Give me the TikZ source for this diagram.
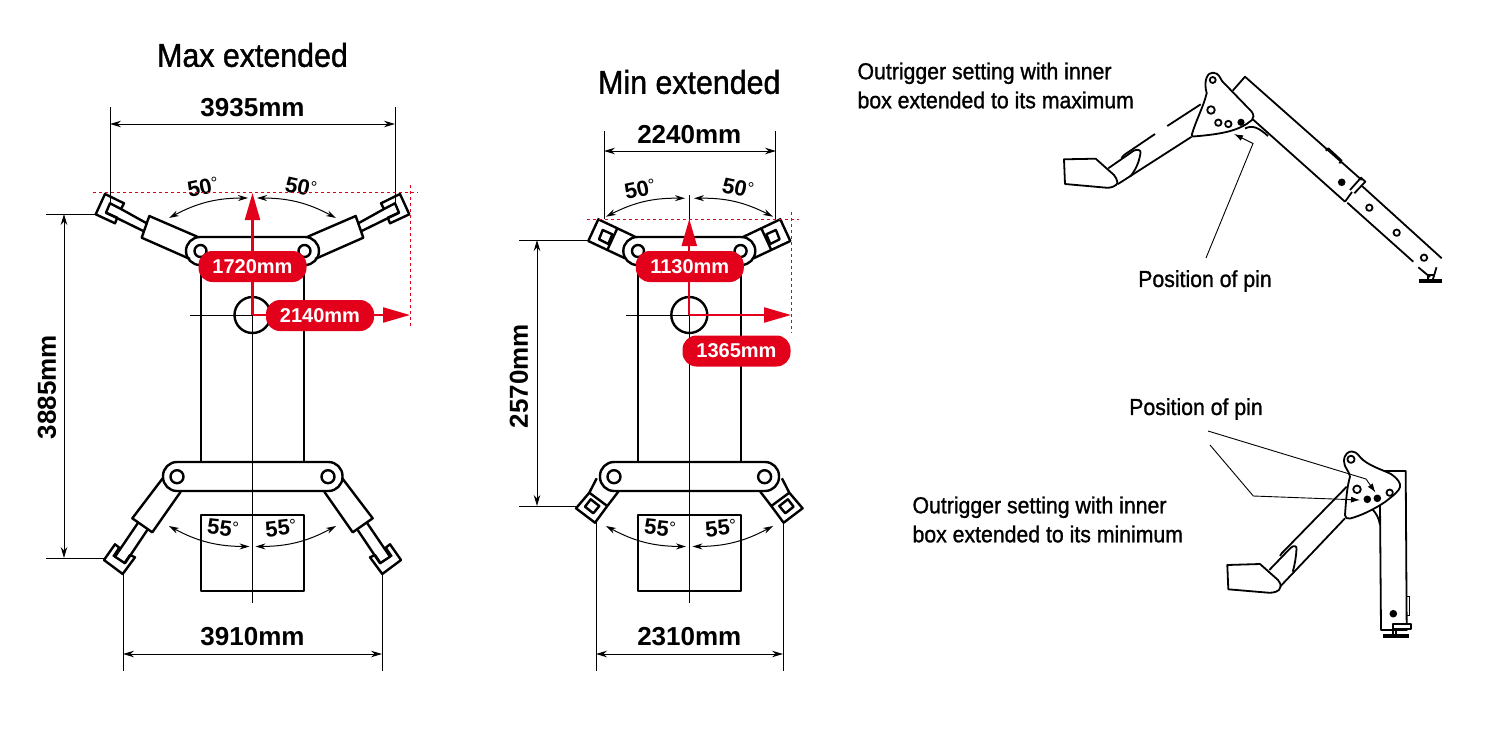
\documentclass[tikz,border=0pt]{standalone}
\usepackage{fontspec}
\usepackage{xcolor}
\usetikzlibrary{arrows.meta}
\setmainfont{Liberation Sans}
\newfontfamily\narrowfont[FakeStretch=0.92,FakeBold=1.2]{Liberation Sans}
\definecolor{markred}{HTML}{E2001A}
\newcommand{\dg}{{\mdseries\fontsize{17}{17}\selectfont\raisebox{.2em}{°}}}

\begin{document}
\begin{tikzpicture}[x=1pt,y=-1pt]
	\tikzstyle{body} = [line width=2.4pt,line join=round]
	\tikzstyle{fine} = [line width=1.8pt,line join=round]
	\tikzstyle{thin} = [line width=1pt]
	\tikzstyle{dimline} = [line width=1pt,{Stealth[length=11pt,width=6.5pt]}-{Stealth[length=11pt,width=6.5pt]}]
	\tikzstyle{arcline} = [line width=1pt,{Stealth[length=10pt,width=6pt]}-{Stealth[length=10pt,width=6pt]}]
	\tikzstyle{reddash} = [markred,line width=1pt,dashed]
	\tikzstyle{redarrow} = [markred,line width=2.2pt,-{Triangle[length=27pt,width=15pt]}]
	\tikzstyle{pinline} = [line width=0.9pt,-{Latex[length=9pt,width=6pt]}]
	\tikzstyle{pill} = [fill=markred,text=white,rounded corners=14pt,minimum width=108pt,minimum height=31pt,inner sep=0pt,font=\bfseries\fontsize{20}{20}\selectfont]
	\tikzstyle{titletxt} = [font=\narrowfont\fontsize{33}{33}\selectfont]
	\tikzstyle{dimtxt} = [font=\bfseries\fontsize{26}{26}\selectfont]
	\tikzstyle{angletxt} = [font=\bfseries\fontsize{22}{22}\selectfont,inner sep=0pt]
	\tikzstyle{notetxt} = [font=\narrowfont\fontsize{23.1}{29}\selectfont,align=left,anchor=west]
	\tikzstyle{pintxt} = [font=\narrowfont\fontsize{23.1}{24}\selectfont]
	\useasboundingbox (0,0) rectangle (1500,750);

	% max extended
	\node(maxtitle)[titletxt] at (252.5,55) {Max extended};
	\node(maxtop)[dimtxt] at (252.5,108) {3935mm};
	\node(maxbot)[dimtxt] at (252.5,637) {3910mm};
	\node(maxside)[dimtxt,rotate=90] at (47,387) {3885mm};
	\draw[body,rounded corners=14pt] (186,237) rectangle (319,265);
	\draw[body,rounded corners=14pt] (163,462) rectangle (342.5,491);
	\draw[body] (201,265) -- (201,462) (304,265) -- (304,462);
	\draw[body] (201,515) rectangle (304,591);
	\draw[body] (252.5,315) circle[radius=18];
	\draw[thin] (252.5,195) -- (252.5,603) (190,315) -- (252.5,315);
	\foreach \sx in {1,-1}{
		\begin{scope}[shift={(252.5,0)},xscale=\sx]
			\draw[body] (-52,251) circle[radius=6];
			\draw[body] (-75.5,476.7) circle[radius=6.5];
			% upper arm
			\draw[body] (-55.2,236.7) -- (-103.2,216) -- (-110.8,237.7) -- (-62.5,259);
			\draw[body] (-131.5,209) -- (-105.8,223.3) (-146.5,212.7) -- (-109.2,231);
			\draw[body] (-142.5,203.3) -- (-131.5,209) -- (-128.5,203.3) -- (-147.5,194) -- (-156.8,214.3) -- (-137.5,223.3) -- (-135.2,217.7) -- (-146.5,212.7) -- cycle;
			% lower arm
			\draw[body] (-89.8,478.3) -- (-120.2,518.3) -- (-100.2,532.3) -- (-71.8,491.7);
			\draw[body] (-114.8,523.3) -- (-137.5,556.7) -- (-127.5,563.3) -- (-105.2,530);
			\draw[body] (-139.2,556.7) -- (-133.2,547.7) -- (-137.5,544.3) -- (-148.5,560) -- (-129.8,574) -- (-117.5,557.3) -- (-122.5,555) -- (-128.2,563.3);
		\end{scope}
	}
	\coordinate(ma1) at (110,124);
	\coordinate(ma2) at (395,124);
	\coordinate(ma3) at (110,107);
	\coordinate(ma4) at (110,203);
	\coordinate(ma5) at (395,107);
	\coordinate(ma6) at (395,203);
	\draw[dimline](ma1) -- (ma2);
	\draw[thin](ma3) -- (ma4);
	\draw[thin](ma5) -- (ma6);
	\coordinate(mb1) at (123,654);
	\coordinate(mb2) at (382,654);
	\coordinate(mb3) at (123,574);
	\coordinate(mb4) at (123,671);
	\coordinate(mb5) at (382,574);
	\coordinate(mb6) at (382,671);
	\draw[dimline](mb1) -- (mb2);
	\draw[thin](mb3) -- (mb4);
	\draw[thin](mb5) -- (mb6);
	\coordinate(mc1) at (64,214);
	\coordinate(mc2) at (64,558);
	\coordinate(mc3) at (46,214);
	\coordinate(mc4) at (95,214);
	\coordinate(mc5) at (46,558);
	\coordinate(mc6) at (104,558);
	\draw[dimline](mc1) -- (mc2);
	\draw[thin](mc3) -- (mc4);
	\draw[thin](mc5) -- (mc6);
	\coordinate(md1) at (169,218);
	\coordinate(md2) at (248,198);
	\coordinate(md3) at (336,218);
	\coordinate(md4) at (257,198);
	\coordinate(md5) at (169,526);
	\coordinate(md6) at (249.5,546.5);
	\coordinate(md7) at (336,526);
	\coordinate(md8) at (255.5,546.5);
	\draw[arcline](md1) to[bend left=14] (md2);
	\draw[arcline](md3) to[bend right=14] (md4);
	\draw[arcline](md5) to[bend right=14] (md6);
	\draw[arcline](md7) to[bend left=14] (md8);
	\node(ma50)[angletxt,rotate=12] at (203,187) {50\dg};
	\node(mb50)[angletxt,rotate=-12] at (301,187) {50\dg};
	\node(ma55)[angletxt,rotate=-6] at (223,528) {55\dg};
	\node(mb55)[angletxt,rotate=6] at (281,528) {55\dg};
	\coordinate(mo) at (252.5,315);
	\coordinate(mup) at (252.5,193);
	\coordinate(mright) at (410,315);
	\draw[reddash] (93,192.7) -- (418,192.7) (410,185) -- (410,326);
	\draw[redarrow](mo) -- (mup);
	\draw[redarrow](mo) -- (mright);
	\node(mlab1)[pill] at (252.5,266.5) {1720mm};
	\node(mlab2)[pill] at (320,315.5) {2140mm};

	% min extended
	\node(mintitle)[titletxt] at (689.3,82) {Min extended};
	\node(mintop)[dimtxt] at (689.3,135) {2240mm};
	\node(minbot)[dimtxt] at (689.3,637) {2310mm};
	\node(minside)[dimtxt,rotate=90] at (519,376) {2570mm};
	\draw[body,rounded corners=14pt] (623.3,237) rectangle (755.3,265);
	\draw[body,rounded corners=14pt] (600,462) rectangle (779,491);
	\draw[body] (638,265) -- (638,462) (741,265) -- (741,462);
	\draw[body] (638,515) rectangle (741,591);
	\draw[body] (689.3,315) circle[radius=18];
	\draw[thin] (689.3,195) -- (689.3,603) (626,315) -- (689.3,315);
	\foreach \sx in {1,-1}{
		\begin{scope}[shift={(689.3,0)},xscale=\sx]
			\draw[body] (-51.3,251) circle[radius=6];
			\draw[body] (-75.3,476.7) circle[radius=6.5];
			% upper arm
			\draw[body] (-54.3,236.7) -- (-91,219.3) -- (-101,241) -- (-64.3,258.3) (-72,228.3) -- (-82,250);
			\draw[body] (-86.6,230) -- (-77,234.3) -- (-81,244) -- (-90.3,239.3) -- cycle;
			% lower arm
			\draw[body] (-92.6,478.3) -- (-100,492.7) -- (-113.3,508.3) -- (-94.3,522.7) -- (-82,506) -- (-71,491.7) (-100,492.7) -- (-82,506);
			\draw[body] (-98.6,499.3) -- (-90,506) -- (-96,513.3) -- (-104.3,506.7) -- cycle;
		\end{scope}
	}
	\coordinate(na1) at (604,151);
	\coordinate(na2) at (776,151);
	\coordinate(na3) at (604,131);
	\coordinate(na4) at (604,219);
	\coordinate(na5) at (775,131);
	\coordinate(na6) at (775,219);
	\draw[dimline](na1) -- (na2);
	\draw[thin](na3) -- (na4);
	\draw[thin](na5) -- (na6);
	\coordinate(nb1) at (596,654);
	\coordinate(nb2) at (783,654);
	\coordinate(nb3) at (596,522);
	\coordinate(nb4) at (596,671);
	\coordinate(nb5) at (783,522);
	\coordinate(nb6) at (783,671);
	\draw[dimline](nb1) -- (nb2);
	\draw[thin](nb3) -- (nb4);
	\draw[thin](nb5) -- (nb6);
	\coordinate(nc1) at (537,240);
	\coordinate(nc2) at (537,506);
	\coordinate(nc3) at (519,240);
	\coordinate(nc4) at (588,240);
	\coordinate(nc5) at (519,506.5);
	\coordinate(nc6) at (576,506.5);
	\draw[dimline](nc1) -- (nc2);
	\draw[thin](nc3) -- (nc4);
	\draw[thin](nc5) -- (nc6);
	\coordinate(nd1) at (606,216.7);
	\coordinate(nd2) at (685,198.3);
	\coordinate(nd3) at (773,216.7);
	\coordinate(nd4) at (694,198.3);
	\coordinate(nd5) at (606,526);
	\coordinate(nd6) at (686,546.5);
	\coordinate(nd7) at (773,526);
	\coordinate(nd8) at (692.5,546.5);
	\draw[arcline](nd1) to[bend left=14] (nd2);
	\draw[arcline](nd3) to[bend right=14] (nd4);
	\draw[arcline](nd5) to[bend right=14] (nd6);
	\draw[arcline](nd7) to[bend left=14] (nd8);
	\node(na50)[angletxt,rotate=12] at (640,189) {50\dg};
	\node(nb50)[angletxt,rotate=-12] at (738,188) {50\dg};
	\node(na55)[angletxt,rotate=-6] at (660,528) {55\dg};
	\node(nb55)[angletxt,rotate=6] at (721,528) {55\dg};
	\coordinate(no) at (689.3,315);
	\coordinate(nup) at (689.3,219);
	\coordinate(nright) at (791,315);
	\draw[reddash] (587,219) -- (799,219) (791.3,212) -- (791.3,333);
	\draw[redarrow](no) -- (nup);
	\draw[redarrow](no) -- (nright);
	\node(nlab1)[pill] at (689.8,266.5) {1130mm};
	\node(nlab2)[pill] at (736.5,351) {1365mm};

	% outrigger at maximum
	\node(maxnote)[notetxt] at (854,85.5) {Outrigger setting with inner\\box extended to its maximum};
	\node(maxpin)[pintxt] at (1205,281) {Position of pin};
	\draw[fine] (1191.7,135) .. controls (1196,120) and (1203,108) .. (1206.7,93.3) .. controls (1203,80) and (1208,72) .. (1213,72.7) .. controls (1219,73) and (1220,78) .. (1222,81) -- (1251.7,111.7) .. controls (1254,115) and (1254,118) .. (1252,120) .. controls (1240,130) and (1225,134) .. (1193,136.5) .. controls (1192,136.5) and (1191.5,136) .. (1191.7,135) -- cycle;
	\draw[fine] (1212.7,80) circle[radius=3];
	\draw[fine] (1211,110) circle[radius=3.8];
	\draw[fine] (1218.3,122.7) circle[radius=3.2];
	\draw[fine] (1228.3,124) circle[radius=3.2];
	\fill (1241,122.3) circle[radius=3.6];
	\draw[fine] (1232.7,90.7) -- (1245,76.7) -- (1361.7,180);
	\draw[fine] (1253,119.5) -- (1345,201.7);
	\draw[fine] (1245,128.5) .. controls (1252,125) and (1258,127) .. (1268,136);
	\draw[fine] (1350,190) -- (1361,177.7) -- (1365.3,181.7) -- (1354.3,193.3) (1345,201.7) -- (1352,192);
	\draw[fine] (1325.7,150.7) -- (1328.3,148.3) -- (1341.7,160.7) -- (1339.3,163.3);
	\fill (1341.7,182.3) circle[radius=3.8];
	\draw[fine] (1362,186) -- (1441.7,258.3) (1347.3,202.7) -- (1413.3,261.7);
	\draw[fine] (1369.3,207.7) circle[radius=3.2];
	\draw[fine] (1396.7,232.7) circle[radius=3.2];
	\draw[fine] (1424,257.7) circle[radius=3.2];
	\draw[line width=4pt] (1419,281) -- (1441.7,281);
	\draw[fine] (1418.3,267.3) -- (1430,277) (1436.5,267.3) -- (1433,279) (1428,279) -- (1428,275) -- (1434,275);
	\draw[fine] (1200.7,104.3) -- (1167.3,126) (1155,134) -- (1124,155) -- (1121.5,158);
	\draw[fine] (1191.7,136.7) -- (1118,184);
	\draw[fine] (1064,159.3) -- (1095.7,158.7) -- (1114,175) .. controls (1118,180) and (1118,184) .. (1116,185) .. controls (1112,188) and (1108,188) .. (1104,187.5) -- (1065,184) -- cycle;
	\draw[fine] (1108.3,168.3) -- (1134,150.5) .. controls (1138,149) and (1141,150) .. (1140.5,153) .. controls (1139,163) and (1135,171) .. (1130,176.7);
	\coordinate(pa1) at (1206,258);
	\coordinate(pa2) at (1253,143.5);
	\coordinate(pa3) at (1234,134);
	\draw[pinline](pa1) -- (pa2) -- (pa3);

	% outrigger at minimum
	\node(minnote)[notetxt] at (909,519.5) {Outrigger setting with inner\\box extended to its minimum};
	\node(minpin)[pintxt] at (1196,409) {Position of pin};
	\draw[fine] (1345,515) .. controls (1346,500) and (1347,487) .. (1350,476.7) .. controls (1349,470) and (1344,468) .. (1344,461) .. controls (1344,454) and (1349,451) .. (1352,451.5) .. controls (1358,452) and (1359,457) .. (1363,460) .. controls (1372,467) and (1383,470) .. (1391,474) .. controls (1397,478) and (1401,483) .. (1400,487) .. controls (1399,491) and (1394,495) .. (1385,502) .. controls (1373,510) and (1360,516) .. (1350,518.5) .. controls (1347,519) and (1345,518) .. (1345,515) -- cycle;
	\draw[fine] (1351,459.3) circle[radius=3.6];
	\draw[fine] (1357,489.3) circle[radius=3.8];
	\fill (1367.3,499.3) circle[radius=3.8];
	\fill (1377.3,498.3) circle[radius=3.8];
	\draw[fine] (1389.7,492.7) circle[radius=3.2];
	\draw[fine] (1385,471) -- (1405.7,471) -- (1406.7,630) -- (1381,630) -- (1380,505);
	\draw[fine] (1372.3,509.3) .. controls (1376,513) and (1379,518) .. (1380,525);
	\draw[thin] (1406.7,596.7) -- (1409.3,596.7) -- (1409.3,615) -- (1406.7,615);
	\draw[fine,fill=white] (1393.3,624.3) rectangle (1411,629.3);
	\fill (1393.3,613.7) circle[radius=3.8];
	\draw[line width=4pt] (1382.5,636) -- (1409,636);
	\draw[fine] (1392.7,630) -- (1392.7,635) (1396,630) -- (1396,635);
	\draw[fine] (1346.7,486.7) -- (1281.7,553.3) -- (1280,556);
	\draw[fine] (1345,518.3) -- (1280,586.7);
	\draw[fine] (1227.3,565) -- (1260,564) -- (1278,580) .. controls (1282,585) and (1281,588) .. (1279,590) .. controls (1275,593) and (1270,593) .. (1266,592.5) -- (1228.3,589.3) -- cycle;
	\draw[fine] (1269.3,570) -- (1291,547.5) .. controls (1294,545) and (1297,546) .. (1296.5,549) .. controls (1296,557) and (1295,564) .. (1292.7,571.7);
	\coordinate(pb0) at (1208,431);
	\coordinate(pb1) at (1366,479);
	\coordinate(pb2) at (1375.5,492.5);
	\coordinate(pb5) at (1210,445);
	\coordinate(pb3) at (1253.3,496);
	\coordinate(pb4) at (1360,500);
	\draw[pinline](pb0) -- (pb1) -- (pb2);
	\draw[pinline](pb5) -- (pb3) -- (pb4);
\end{tikzpicture}
\end{document}
